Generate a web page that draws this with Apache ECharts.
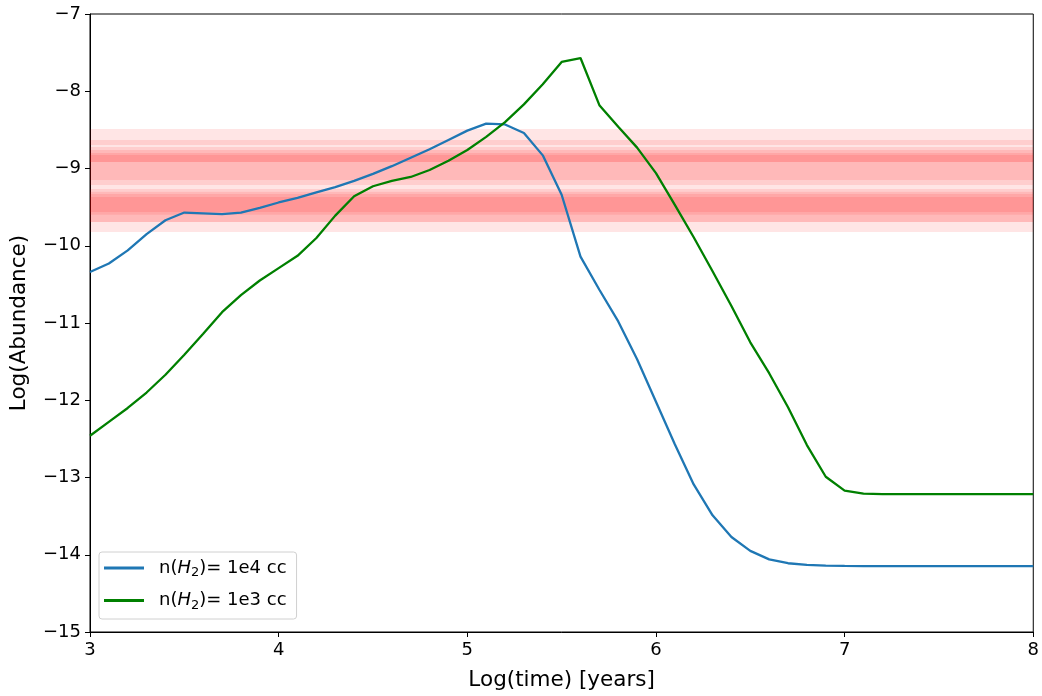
<!DOCTYPE html>
<html>
<head>
<meta charset="utf-8">
<script src="https://cdn.jsdelivr.net/npm/echarts@6/dist/echarts.min.js"></script>
<style>
  html, body { margin: 0; padding: 0; background: #fff; }
  #chart { width: 1042px; height: 696px; }
</style>
</head>
<body>
<div id="chart"></div>
<script>
// Log(time) sampling, years
const logTime = [3.0,3.1,3.2,3.3,3.4,3.5,3.6,3.7,3.8,3.9,4.0,4.1,4.2,4.3,4.4,4.5,4.6,4.7,4.8,4.9,
                 5.0,5.1,5.2,5.3,5.4,5.5,5.6,5.7,5.8,5.9,6.0,6.1,6.2,6.3,6.4,6.5,6.6,6.7,6.8,6.9,
                 7.0,7.1,7.2,7.3,7.4,7.5,7.6,7.7,7.8,7.9,8.0];

// Log abundance, n(H2) = 1e4 cc
const abund1e4 = [-10.34,-10.23,-10.06,-9.85,-9.67,-9.57,-9.58,-9.59,-9.57,-9.51,-9.44,-9.38,-9.31,-9.24,-9.16,-9.07,-8.97,-8.86,-8.75,-8.63,
                  -8.51,-8.42,-8.43,-8.54,-8.83,-9.34,-10.14,-10.57,-10.98,-11.47,-12.02,-12.57,-13.09,-13.49,-13.77,-13.95,-14.06,-14.11,-14.13,-14.14,
                  -14.145,-14.146,-14.146,-14.146,-14.146,-14.146,-14.146,-14.146,-14.146,-14.146,-14.146];

// Log abundance, n(H2) = 1e3 cc
const abund1e3 = [-12.46,-12.28,-12.10,-11.90,-11.67,-11.41,-11.14,-10.86,-10.64,-10.45,-10.29,-10.13,-9.90,-9.61,-9.36,-9.23,-9.16,-9.11,-9.02,-8.90,
                  -8.76,-8.59,-8.40,-8.17,-7.91,-7.62,-7.57,-8.18,-8.46,-8.73,-9.06,-9.47,-9.89,-10.33,-10.78,-11.25,-11.65,-12.09,-12.58,-12.99,
                  -13.17,-13.21,-13.215,-13.215,-13.215,-13.215,-13.215,-13.215,-13.215,-13.215,-13.215];

// Observed abundance ranges (translucent horizontal spans)
const bandLow  = [-9.822,-8.696,-9.214,-9.149,-8.916,-8.916,-9.693,-9.600,-9.563,-9.693];
const bandHigh = [-8.489,-8.631,-8.722,-8.760,-8.800,-8.825,-9.265,-9.330,-9.369,-9.300];

const seriesNames = ['n(H2)= 1e4 cc', 'n(H2)= 1e3 cc'];

const fmtMinus = v => String(v).replace('-', '\u2212');

const chart = echarts.init(document.getElementById('chart'), null, { renderer: 'canvas' });

const bandAreas = bandLow.map((lo, i) => [{ yAxis: lo }, { yAxis: bandHigh[i] }]);

chart.setOption({
  animation: false,
  textStyle: { fontFamily: 'DejaVu Sans', color: '#000' },
  grid: {
    left: 89, right: 7, top: 14, bottom: 64,
    show: true, borderColor: '#000', borderWidth: 1, backgroundColor: 'transparent'
  },
  xAxis: {
    type: 'value', min: 3, max: 8, interval: 1,
    name: 'Log(time) [years]', nameLocation: 'middle', nameGap: 37,
    nameTextStyle: { fontSize: 21.5, color: '#000', fontFamily: 'DejaVu Sans' },
    axisLine: { show: true, onZero: false, lineStyle: { color: '#000', width: 1 } },
    axisTick: { show: true, inside: false, length: 5, lineStyle: { color: '#000' } },
    axisLabel: { fontSize: 18, color: '#000', margin: 9, fontFamily: 'DejaVu Sans', formatter: fmtMinus },
    splitLine: { show: false }
  },
  yAxis: {
    type: 'value', min: -15, max: -7, interval: 1,
    name: 'Log(Abundance)', nameLocation: 'middle', nameGap: 60, nameRotate: 90,
    nameTextStyle: { fontSize: 21.5, color: '#000', fontFamily: 'DejaVu Sans' },
    axisLine: { show: true, onZero: false, lineStyle: { color: '#000', width: 1 } },
    axisTick: { show: true, inside: false, length: 5, lineStyle: { color: '#000' } },
    axisLabel: { fontSize: 18, color: '#000', margin: 9, fontFamily: 'DejaVu Sans', formatter: fmtMinus },
    splitLine: { show: false }
  },
  legend: {
    orient: 'vertical', left: 99, top: 552,
    data: seriesNames,
    icon: 'rect',
    itemWidth: 40, itemHeight: 3, itemGap: 12,
    padding: [7, 10, 7, 5],
    borderColor: '#d0d0d0', borderWidth: 1, borderRadius: 3,
    backgroundColor: 'rgba(255,255,255,0.8)',
    formatter: name => {
      const dens = name.split('= ')[1];
      return '{a|n(}{i|H}{s|2}{a|)= ' + dens + '}';
    },
    textStyle: {
      fontSize: 18, color: '#000', fontFamily: 'DejaVu Sans', padding: [0, 0, 0, 10],
      rich: {
        a: { fontSize: 18, fontFamily: 'DejaVu Sans', color: '#000' },
        i: { fontSize: 18, fontFamily: 'DejaVu Sans', fontStyle: 'italic', color: '#000' },
        s: { fontSize: 13, fontFamily: 'DejaVu Sans', color: '#000', padding: [10, 0, 0, 0] }
      }
    }
  },
  series: [
    {
      name: 'band', type: 'line', data: [], z: 1, silent: true,
      markArea: {
        silent: true,
        itemStyle: { color: 'rgba(255,0,0,0.1)' },
        data: bandAreas
      }
    },
    {
      name: seriesNames[0], type: 'line', z: 3,
      data: logTime.map((t, i) => [t, abund1e4[i]]),
      symbol: 'none', smooth: false,
      lineStyle: { color: '#1f77b4', width: 2.3 },
      itemStyle: { color: '#1f77b4' }
    },
    {
      name: seriesNames[1], type: 'line', z: 3,
      data: logTime.map((t, i) => [t, abund1e3[i]]),
      symbol: 'none', smooth: false,
      lineStyle: { color: '#008000', width: 2.3 },
      itemStyle: { color: '#008000' }
    }
  ]
});
</script>
</body>
</html>
